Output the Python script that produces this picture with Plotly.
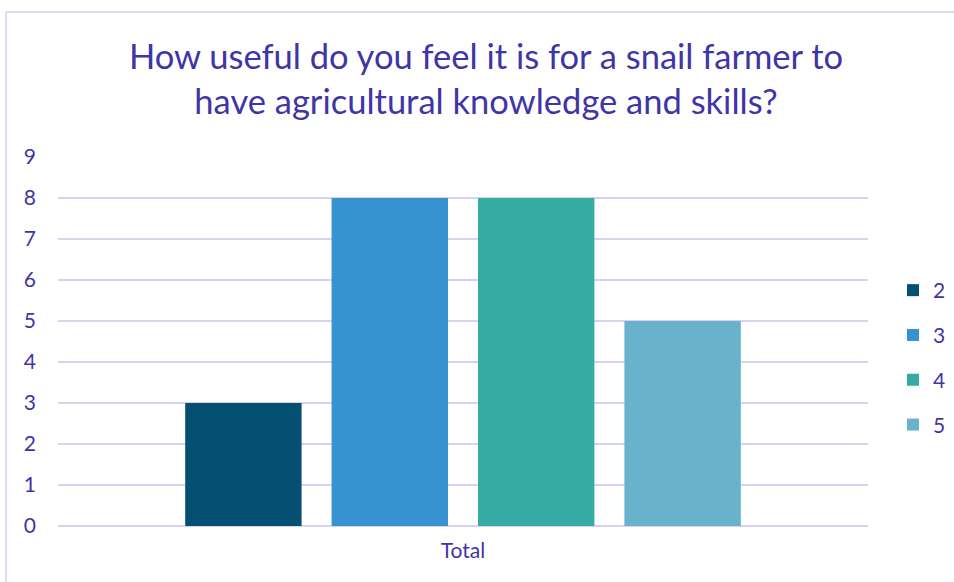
import plotly.graph_objects as go

# Survey responses: usefulness rating -> number of respondents
categories = ["Total"]
series_names = ["2", "3", "4", "5"]
series_values = [3, 8, 8, 5]
series_colors = ["#044f72", "#3892d0", "#35aba3", "#68b3cb"]
y_ticks = [0, 1, 2, 3, 4, 5, 6, 7, 8, 9]

TEXT = "#3f35a6"
GRID = "#d6d2f0"
FONT = "Lato"

W, H = 954, 582
L, R, T, B = 58, 86, 157, 56
plot_w = W - L - R
plot_h = H - T - B

fig = go.Figure()
for name, val, col in zip(series_names, series_values, series_colors):
    fig.add_trace(go.Bar(
        x=categories, y=[val], name=name,
        marker=dict(color=col, line=dict(width=0)),
        legendgroup=name,
    ))

def px_x(p):
    return (p - L) / plot_w

def px_y(p):
    return (H - B - p) / plot_h

# outer chart frame (top and left edges visible)
frame = dict(type="line", xref="paper", yref="paper",
             line=dict(color="#d3cff0", width=1.5))
fig.add_shape(**frame, x0=px_x(6), x1=px_x(6), y0=px_y(590), y1=px_y(12))
fig.add_shape(**frame, x0=px_x(6), x1=px_x(960), y0=px_y(12), y1=px_y(12))

fig.update_layout(
    width=W, height=H,
    margin=dict(l=L, r=R, t=T, b=B, pad=0, autoexpand=False),
    paper_bgcolor="white", plot_bgcolor="white",
    barmode="group", bargap=0.277, bargroupgap=0.205,
    font=dict(family=FONT, color=TEXT, size=21),
    title=dict(
        text="How useful do you feel it is for a snail farmer to<br>have agricultural knowledge and skills?",
        x=px_x(486), xref="paper", xanchor="center",
        y=1 - 69 / H, yref="container", yanchor="middle",
        font=dict(family=FONT, size=34.5, color=TEXT),
    ),
    showlegend=True,
    legend=dict(
        x=px_x(893), xanchor="left", y=px_y(270), yanchor="top",
        font=dict(family=FONT, size=21, color=TEXT),
        tracegroupgap=14.5, itemwidth=30,
        bgcolor="rgba(0,0,0,0)",
    ),
    xaxis=dict(
        showgrid=False, showline=False, zeroline=False,
        ticks="", tickfont=dict(size=21, color=TEXT),
        ticklabelstandoff=10,
    ),
    yaxis=dict(
        range=[0, 9], tickvals=y_ticks,
        showgrid=True, gridcolor=GRID, gridwidth=1.5,
        zeroline=True, zerolinecolor=GRID, zerolinewidth=1.5,
        showline=False, ticks="",
        tickfont=dict(size=21, color=TEXT),
        ticklabelstandoff=21,
    ),
)

fig.write_html("out.html")
